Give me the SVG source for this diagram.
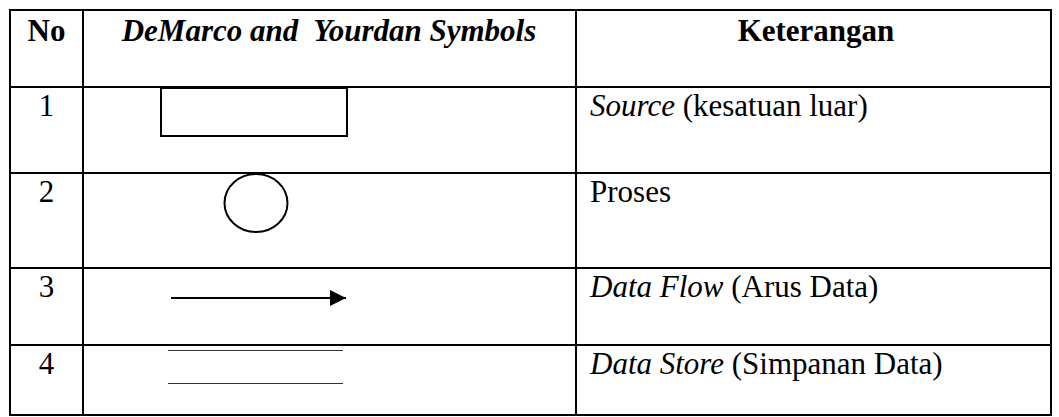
<svg xmlns="http://www.w3.org/2000/svg" width="1059" height="417" viewBox="0 0 1059 417">
<defs>
<style>
.grid{stroke:#000;stroke-width:2;fill:none}
.t{font-family:"Liberation Serif","Times New Roman",serif;font-size:31px;fill:#000}
.b{font-weight:bold}
.i{font-style:italic}
.sym{stroke:#000;stroke-width:2;fill:none}
.store{stroke:#333;stroke-width:1}
</style>
<marker id="ah" viewBox="0 0 16 16" refX="16" refY="8" markerWidth="16" markerHeight="16" markerUnits="userSpaceOnUse" orient="auto">
<path d="M0,0 L16,8 L0,16 Z" fill="#000"/>
</marker>
</defs>
<rect width="1059" height="417" fill="#fff"/>
<g id="table">
<rect class="grid" x="10" y="10" width="1041" height="405"/>
<line class="grid" x1="83" y1="10" x2="83" y2="415"/>
<line class="grid" x1="576" y1="10" x2="576" y2="415"/>
<line class="grid" x1="10" y1="87" x2="1051" y2="87"/>
<line class="grid" x1="10" y1="173" x2="1051" y2="173"/>
<line class="grid" x1="10" y1="268" x2="1051" y2="268"/>
<line class="grid" x1="10" y1="345" x2="1051" y2="345"/>
</g>
<g id="header">
<text class="t b" x="46.5" y="41" text-anchor="middle">No</text>
<text class="t b i" x="329" y="41" text-anchor="middle" xml:space="preserve">DeMarco and  Yourdan Symbols</text>
<text class="t b" x="816" y="41" text-anchor="middle">Keterangan</text>
</g>
<g id="row1">
<text class="t" x="46.5" y="116" text-anchor="middle">1</text>
<rect class="sym" x="161" y="88" width="186" height="48"/>
<text class="t" x="590" y="116"><tspan class="i">Source</tspan> (kesatuan luar)</text>
</g>
<g id="row2">
<text class="t" x="46.5" y="202" text-anchor="middle">2</text>
<ellipse class="sym" cx="256" cy="203" rx="31.5" ry="29"/>
<text class="t" x="590" y="202">Proses</text>
</g>
<g id="row3">
<text class="t" x="46.5" y="297" text-anchor="middle">3</text>
<text class="t" x="590" y="297"><tspan class="i">Data Flow</tspan> (Arus Data)</text>
</g>
<g id="row4">
<text class="t" x="46.5" y="374" text-anchor="middle">4</text>
<line class="store" x1="168" y1="350.5" x2="343" y2="350.5"/>
<line class="store" x1="168" y1="383.5" x2="343" y2="383.5"/>
<text class="t" x="590" y="374"><tspan class="i">Data Store</tspan> (Simpanan Data)</text>
</g>
<g id="connectors">
<line class="sym" x1="171" y1="298" x2="346" y2="298" marker-end="url(#ah)"/>
</g>
</svg>
